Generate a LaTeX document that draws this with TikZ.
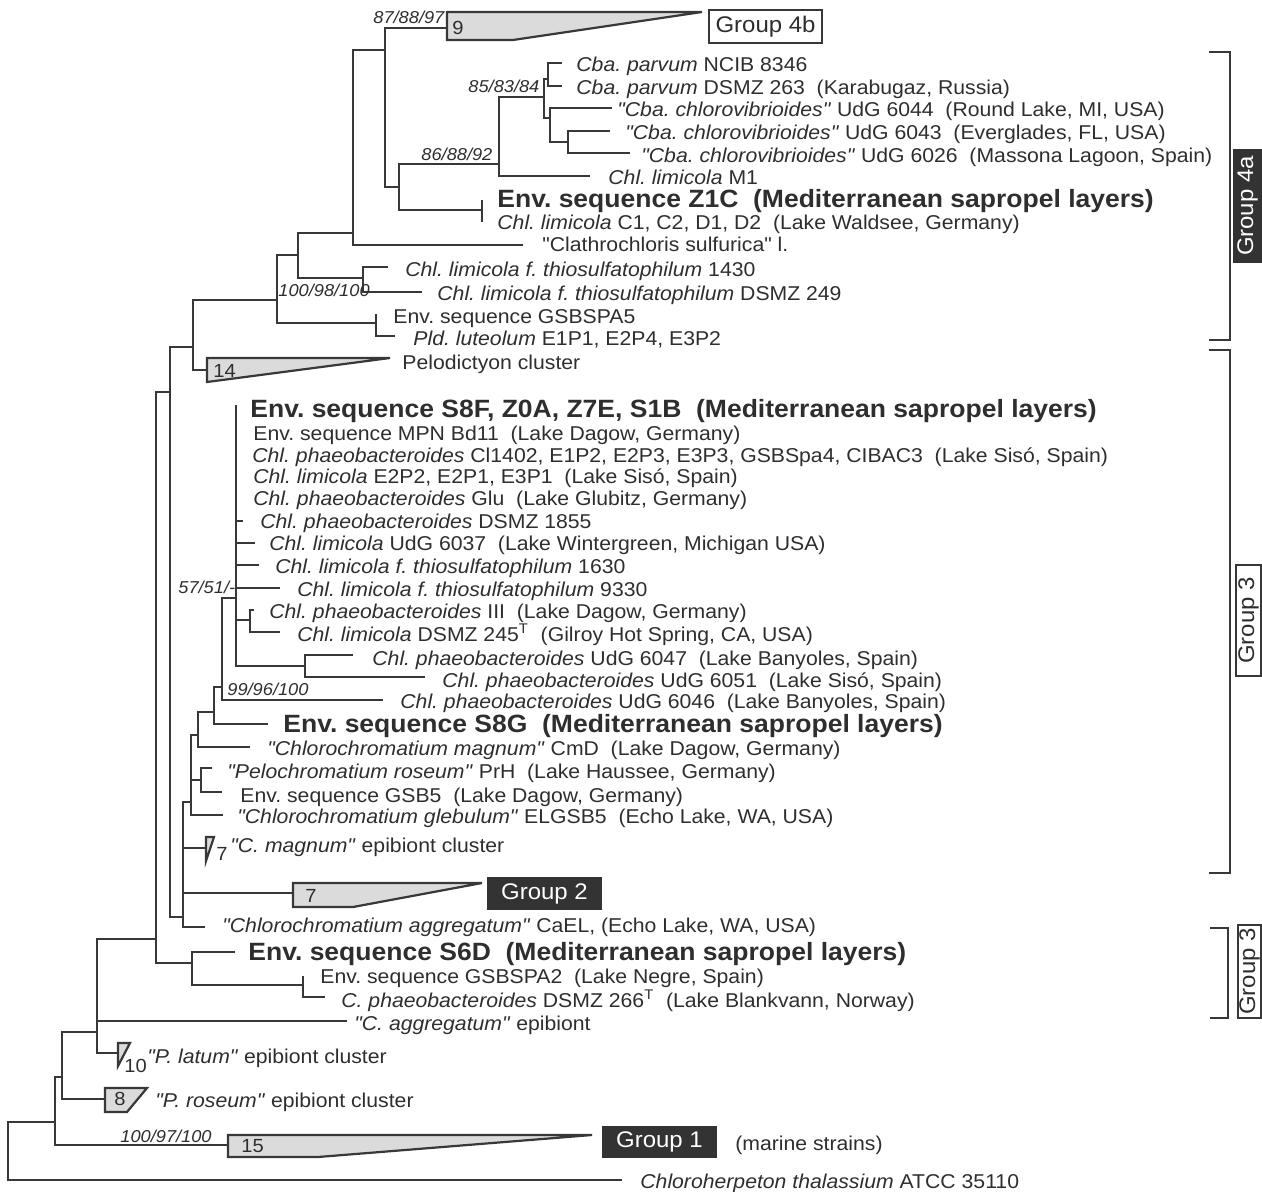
\documentclass[tikz,border=0pt]{standalone}
\usepackage{fontspec}
\setmainfont{Liberation Sans}[FakeStretch=1.06, Ligatures=TeXOff]
\definecolor{treegray}{gray}{0.22}
\definecolor{textgray}{gray}{0.18}
\definecolor{cladegray}{gray}{0.86}
\tikzset{
	branch/.style={
		line width=1.45pt, draw=treegray, line join=miter
	},
	%
	leaf/.style={
		anchor=base west, inner sep=0pt, text=textgray, font=\fontsize{10}{12}\selectfont
	},
	%
	envleaf/.style={
		leaf, font=\fontsize{12.5}{14}\selectfont\bfseries
	},
	%
	boot/.style={
		anchor=base west, inner sep=0pt, text=textgray, font=\fontsize{8.6}{10}\selectfont\itshape
	},
	%
	count/.style={
		anchor=base west, inner sep=0pt, text=textgray, font=\fontsize{9.5}{11}\selectfont
	},
	%
	clade/.style={
		draw=treegray, fill=cladegray, line width=1.1pt, line join=miter
	},
	%
	groupbox/.style={
		rectangle, draw=treegray, fill=white, line width=1.1pt, inner sep=0pt,
		text=textgray, font=\fontsize{11.3}{13}\selectfont
	},
	%
	darkbox/.style={
		rectangle, fill=black!80, inner sep=0pt, text=white, font=\fontsize{11.3}{13}\selectfont
	},
	%
	bracket/.style={
		line width=1.3pt, draw=treegray
	}
}

\begin{document}
\frenchspacing
\begin{tikzpicture}[x=0.5pt, y=-0.5pt]
    \useasboundingbox (0,0) rectangle (1262,1192);
    % inner nodes
    \coordinate (root) at (8,1151);
    \coordinate (n55) at (55,1122);
    \coordinate (n62) at (62,1077);
    \coordinate (n97) at (97,1032);
    \coordinate (n156) at (156,939);
    \coordinate (s6d) at (192,963);
    \coordinate (spa2) at (303,985);
    \coordinate (n170) at (170,392);
    \coordinate (n193) at (193,347);
    \coordinate (n277) at (277,300);
    \coordinate (pld) at (376,323);
    \coordinate (n298) at (298,255);
    \coordinate (thio) at (363,278);
    \coordinate (n353) at (353,233);
    \coordinate (g4) at (385,50);
    \coordinate (n399) at (399,187);
    \coordinate (z1c) at (482,210);
    \coordinate (cba) at (499,164);
    \coordinate (cbaA) at (544,97);
    \coordinate (parv) at (548,79);
    \coordinate (cbaB) at (550,118);
    \coordinate (cbaC) at (568,142);
    \coordinate (g3) at (183,917);
    \coordinate (n191) at (191,802);
    \coordinate (n201) at (201,780);
    \coordinate (n198) at (198,735);
    \coordinate (n214) at (214,712);
    \coordinate (n222) at (222,687);
    \coordinate (s8f) at (236,598);
    \coordinate (n250) at (250,620);
    \coordinate (n305) at (305,666);
    % leaf tips
    \coordinate (tChl) at (622,1180);
    \coordinate (c15) at (228,1145);
    \coordinate (c8) at (105,1099);
    \coordinate (c10) at (118,1053);
    \coordinate (tCagg) at (347,1021);
    \coordinate (tS6D) at (235,952);
    \coordinate (tSPA2) at (303,976);
    \coordinate (t266) at (325,997);
    \coordinate (c14) at (207,370);
    \coordinate (tSPA5) at (376,314);
    \coordinate (tPld) at (395,336);
    \coordinate (t1430) at (388,267);
    \coordinate (t249) at (422,292);
    \coordinate (tClath) at (523,245);
    \coordinate (c9) at (447,28);
    \coordinate (tZ1C) at (482,200);
    \coordinate (tC1) at (482,222);
    \coordinate (tM1) at (590,176);
    \coordinate (tNCIB) at (562,63);
    \coordinate (t263) at (562,86);
    \coordinate (t6044) at (612,108);
    \coordinate (t6043) at (610,131);
    \coordinate (t6026) at (630,153);
    \coordinate (c7s) at (206,848);
    \coordinate (c7) at (293,893);
    \coordinate (tCaEL) at (205,927);
    \coordinate (tGleb) at (223,815);
    \coordinate (tPrH) at (212,768);
    \coordinate (tGSB5) at (222,792);
    \coordinate (tCmD) at (250,747);
    \coordinate (tS8G) at (268,724);
    \coordinate (t6046) at (383,700);
    \coordinate (tS8F) at (236,405);
    \coordinate (t1855) at (243,521);
    \coordinate (t6037) at (255,543);
    \coordinate (t1630) at (259,565);
    \coordinate (t9330) at (280,588);
    \coordinate (tIII) at (254,610);
    \coordinate (t245) at (280,632);
    \coordinate (t6047) at (353,655);
    \coordinate (t6051) at (425,677);

    % branches
    \draw[branch] (root) |- (n55) (root) |- (tChl);
    \draw[branch] (n55) |- (n62) (n55) |- (c15);
    \draw[branch] (n62) |- (n97) (n62) |- (c8);
    \draw[branch] (n97) |- (n156) (n97) |- (tCagg) (n97) |- (c10);
    \draw[branch] (n156) |- (n170) (n156) |- (s6d);
    \draw[branch] (s6d) |- (tS6D) (s6d) |- (spa2);
    \draw[branch] (spa2) |- (tSPA2) (spa2) |- (t266);
    \draw[branch] (n170) |- (n193) (n170) |- (g3);
    \draw[branch] (n193) |- (n277) (n193) |- (c14);
    \draw[branch] (n277) |- (n298) (n277) |- (pld);
    \draw[branch] (pld) |- (tSPA5) (pld) |- (tPld);
    \draw[branch] (n298) |- (n353) (n298) |- (thio);
    \draw[branch] (thio) |- (t1430) (thio) |- (t249);
    \draw[branch] (n353) |- (g4) (n353) |- (tClath);
    \draw[branch] (g4) |- (c9) (g4) |- (n399);
    \draw[branch] (n399) |- (cba) (n399) |- (z1c);
    \draw[branch] (tZ1C) -- (tC1);
    \draw[branch] (cba) |- (cbaA) (cba) |- (tM1);
    \draw[branch] (cbaA) |- (parv) (cbaA) |- (cbaB);
    \draw[branch] (parv) |- (tNCIB) (parv) |- (t263);
    \draw[branch] (cbaB) |- (t6044) (cbaB) |- (cbaC);
    \draw[branch] (cbaC) |- (t6043) (cbaC) |- (t6026);
    \draw[branch] (g3) |- (n191) (g3) |- (c7s) (g3) |- (c7) (g3) |- (tCaEL);
    \draw[branch] (n191) |- (n198) (n191) |- (n201) (n191) |- (tGleb);
    \draw[branch] (n201) |- (tPrH) (n201) |- (tGSB5);
    \draw[branch] (n198) |- (n214) (n198) |- (tCmD);
    \draw[branch] (n214) |- (n222) (n214) |- (tS8G);
    \draw[branch] (n222) |- (s8f) (n222) |- (t6046);
    \draw[branch] (s8f) |- (tS8F) (s8f) |- (t1855) (s8f) |- (t6037) (s8f) |- (t1630)
        (s8f) |- (t9330) (s8f) |- (n250) (s8f) |- (n305);
    \draw[branch] (n250) |- (tIII) (n250) |- (t245);
    \draw[branch] (n305) |- (t6047) (n305) |- (t6051);

    % collapsed clades
    \draw[clade] (447,12) -- (702,12) -- (513,40) -- (447,40) -- cycle;
    \draw[clade] (207,358) -- (390,358) -- (207,382) -- cycle;
    \draw[clade] (206,837) -- (214,837) -- (206,861) -- cycle;
    \draw[clade] (293,883) -- (482,883) -- (353,907) -- (293,907) -- cycle;
    \draw[clade] (118,1043) -- (130,1043) -- (118,1066) -- cycle;
    \draw[clade] (105,1088) -- (147,1088) -- (127,1112) -- (105,1112) -- cycle;
    \draw[clade] (228,1135) -- (592,1135) -- (318,1157) -- (228,1157) -- cycle;
    \node(n9)[count] at (452,35) {9};
    \node(n14)[count] at (213,377) {14};
    \node(n7s)[count] at (216,860) {7};
    \node(n7)[count] at (305,902) {7};
    \node(n10)[count] at (124,1072) {10};
    \node(n8)[count] at (114,1105) {8};
    \node(n15)[count] at (241,1152) {15};

    % support values
    \node(b1)[boot] at (373,24) {87/88/97};
    \node(b2)[boot] at (468,93) {85/83/84};
    \node(b3)[boot] at (421,161) {86/88/92};
    \node(b4)[boot] at (278,297) {100/98/100};
    \node(b5)[boot] at (178,593) {57/51/-};
    \node(b6)[boot] at (227,695) {99/96/100};
    \node(b7)[boot] at (120,1142) {100/97/100};

    % leaf labels
    \node(lNCIB)[leaf] at (576,72) {\textit{Cba. parvum} NCIB 8346};
    \node(l263)[leaf] at (576,95) {\textit{Cba. parvum} DSMZ 263\ \ (Karabugaz, Russia)};
    \node(l6044)[leaf] at (617,117) {\textit{"Cba. chlorovibrioides"} UdG 6044\ \ (Round Lake, MI, USA)};
    \node(l6043)[leaf] at (625,140) {\textit{"Cba. chlorovibrioides"} UdG 6043\ \ (Everglades, FL, USA)};
    \node(l6026)[leaf] at (641,163) {\textit{"Cba. chlorovibrioides"} UdG 6026\ \ (Massona Lagoon, Spain)};
    \node(lM1)[leaf] at (608,185) {\textit{Chl. limicola} M1};
    \node(lZ1C)[envleaf] at (497,208) {Env. sequence Z1C\ \ (Mediterranean sapropel layers)};
    \node(lC1)[leaf] at (497,230) {\textit{Chl. limicola} C1, C2, D1, D2\ \ (Lake Waldsee, Germany)};
    \node(lClath)[leaf] at (542,252) {"Clathrochloris sulfurica" l.};
    \node(l1430)[leaf] at (405,277) {\textit{Chl. limicola f. thiosulfatophilum} 1430};
    \node(l249)[leaf] at (437,300) {\textit{Chl. limicola f. thiosulfatophilum} DSMZ 249};
    \node(lSPA5)[leaf] at (393,323) {Env. sequence GSBSPA5};
    \node(lPld)[leaf] at (413,345) {\textit{Pld. luteolum} E1P1, E2P4, E3P2};
    \node(lPelo)[leaf] at (402,370) {Pelodictyon cluster};
    \node(lS8F)[envleaf] at (250,417) {Env. sequence S8F, Z0A, Z7E, S1B\ \ (Mediterranean sapropel layers)};
    \node(lMPN)[leaf] at (253,440) {Env. sequence MPN Bd11\ \ (Lake Dagow, Germany)};
    \node(lCl)[leaf] at (252,462) {\textit{Chl. phaeobacteroides} Cl1402, E1P2, E2P3, E3P3, GSBSpa4, CIBAC3\ \ (Lake Sisó, Spain)};
    \node(lE2P2)[leaf] at (253,483) {\textit{Chl. limicola} E2P2, E2P1, E3P1\ \ (Lake Sisó, Spain)};
    \node(lGlu)[leaf] at (253,505) {\textit{Chl. phaeobacteroides} Glu\ \ (Lake Glubitz, Germany)};
    \node(l1855)[leaf] at (260,528) {\textit{Chl. phaeobacteroides} DSMZ 1855};
    \node(l6037)[leaf] at (269,550) {\textit{Chl. limicola} UdG 6037\ \ (Lake Wintergreen, Michigan USA)};
    \node(l1630)[leaf] at (275,573) {\textit{Chl. limicola f. thiosulfatophilum} 1630};
    \node(l9330)[leaf] at (297,596) {\textit{Chl. limicola f. thiosulfatophilum} 9330};
    \node(lIII)[leaf] at (269,618) {\textit{Chl. phaeobacteroides} III\ \ (Lake Dagow, Germany)};
    \node(l245)[leaf] at (297,641) {\textit{Chl. limicola} DSMZ 245\textsuperscript{T}\ \ (Gilroy Hot Spring, CA, USA)};
    \node(l6047)[leaf] at (372,665) {\textit{Chl. phaeobacteroides} UdG 6047\ \ (Lake Banyoles, Spain)};
    \node(l6051)[leaf] at (442,687) {\textit{Chl. phaeobacteroides} UdG 6051\ \ (Lake Sisó, Spain)};
    \node(l6046)[leaf] at (400,708) {\textit{Chl. phaeobacteroides} UdG 6046\ \ (Lake Banyoles, Spain)};
    \node(lS8G)[envleaf] at (283,732) {Env. sequence S8G\ \ (Mediterranean sapropel layers)};
    \node(lCmD)[leaf] at (267,755) {\textit{"Chlorochromatium magnum"} CmD\ \ (Lake Dagow, Germany)};
    \node(lPrH)[leaf] at (227,778) {\textit{"Pelochromatium roseum"} PrH\ \ (Lake Haussee, Germany)};
    \node(lGSB5)[leaf] at (240,802) {Env. sequence GSB5\ \ (Lake Dagow, Germany)};
    \node(lGleb)[leaf] at (237,823) {\textit{"Chlorochromatium glebulum"} ELGSB5\ \ (Echo Lake, WA, USA)};
    \node(lCmag)[leaf] at (230,852) {\textit{"C. magnum"} epibiont cluster};
    \node(lCaEL)[leaf] at (222,932) {\textit{"Chlorochromatium aggregatum"} CaEL, (Echo Lake, WA, USA)};
    \node(lS6D)[envleaf] at (248,960) {Env. sequence S6D\ \ (Mediterranean sapropel layers)};
    \node(lSPA2)[leaf] at (320,983) {Env. sequence GSBSPA2\ \ (Lake Negre, Spain)};
    \node(l266)[leaf] at (341,1007) {\textit{C. phaeobacteroides} DSMZ 266\textsuperscript{T}\ \ (Lake Blankvann, Norway)};
    \node(lCagg)[leaf] at (354,1030) {\textit{"C. aggregatum"} epibiont};
    \node(lPlat)[leaf] at (147,1063) {\textit{"P. latum"} epibiont cluster};
    \node(lPros)[leaf] at (155,1107) {\textit{"P. roseum"} epibiont cluster};
    \node(lmar)[leaf] at (735,1150) {(marine strains)};
    \node(lChl)[leaf] at (640,1188) {\textit{Chloroherpeton thalassium} ATCC 35110};

    % group labels
    \node(G4b)[groupbox, minimum width=56.5pt, minimum height=16.5pt] at (765.5,26.5) {Group 4b};
    \node(G2)[darkbox, minimum width=57.5pt, minimum height=16.5pt] at (544.5,893.5) {Group 2};
    \node(G1)[darkbox, minimum width=57.5pt, minimum height=16pt] at (659.5,1142) {Group 1};
    \node(G4a)[darkbox, rotate=90, minimum width=57pt, minimum height=14.5pt] at (1247.5,206) {Group 4a};
    \node(G3)[groupbox, rotate=90, minimum width=55.5pt, minimum height=12.5pt] at (1248.5,620.5) {Group 3};
    \node(G3b)[groupbox, rotate=90, minimum width=46.5pt, minimum height=11.5pt] at (1249.5,971.5) {Group 3};
    \draw[bracket] (1209,52) -- (1230,52) -- (1230,340) -- (1209,340);
    \draw[bracket] (1209,350) -- (1230,350) -- (1230,873) -- (1209,873);
    \draw[bracket] (1210,928) -- (1228,928) -- (1228,1018) -- (1210,1018);
\end{tikzpicture}
\end{document}
